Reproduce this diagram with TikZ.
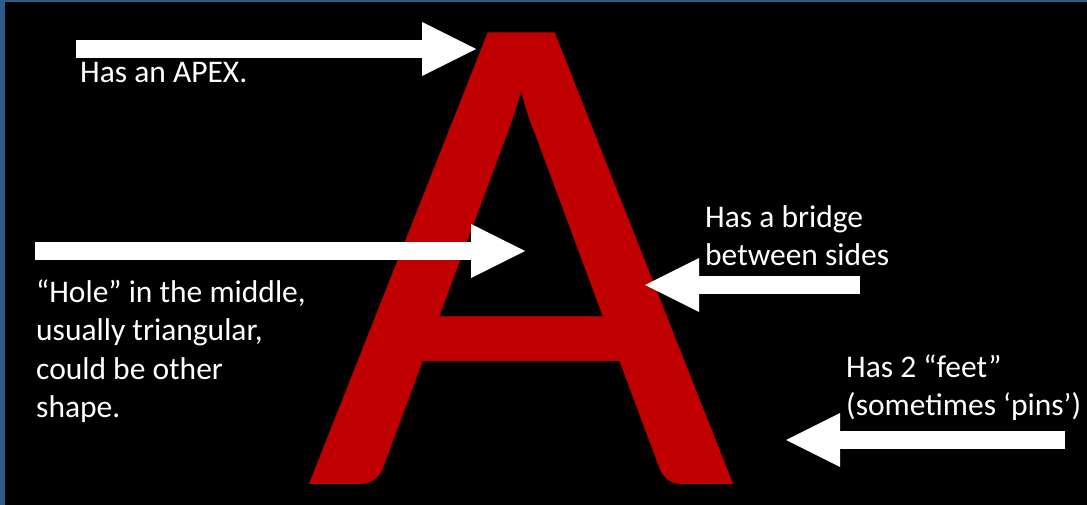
\documentclass[tikz,border=0pt]{standalone}
\usepackage{fontspec}
\setmainfont{Carlito}
\usetikzlibrary{arrows.meta}
\definecolor{slideblue}{RGB}{46,90,136}
\definecolor{letterred}{RGB}{192,0,0}

\begin{document}
\begin{tikzpicture}[x=1pt, y=-1pt,
  note/.style={text=white, font=\fontsize{31.5}{38.5}\selectfont, align=left, anchor=base west, inner sep=0pt},
  pointer/.style={draw=white, line width=18pt, -{Triangle[length=54pt 0 0, width=54pt 0 0, line width=0pt 0 0]}}]
% slide background
\fill[slideblue] (0,0) rectangle (1087,505);
\fill[black] (5,2) rectangle (1087,505);
\useasboundingbox (0,0) rectangle (1087,505);

% the big letter
\node[text=letterred, font=\fontsize{704}{704}\selectfont, inner sep=0pt, anchor=base, xscale=1.055] (bigA) at (521.5,484) {A};

% what points at what
\coordinate (apex) at (476,49);
\coordinate (apextail) at (76,49);
\coordinate (hole) at (525,251);
\coordinate (holetail) at (35,251);
\coordinate (bridge) at (645,285);
\coordinate (bridgetail) at (860,285);
\coordinate (feet) at (786,440);
\coordinate (feettail) at (1065,440);

% base of a note = baseline of its last line
\node[note] (apextext) at (80,83) {Has an APEX.};
\node[note] (holetext) at (36,417.5) {“Hole” in the middle,\\ usually triangular,\\ could be other\\ shape.};
\node[note] (bridgetext) at (705,265.5) {Has a bridge\\ between sides};
\node[note] (feettext) at (846,415.5) {Has 2 “feet”\\ (sometimes ‘pins’)};

\draw[pointer] (apextail) -- (apex);
\draw[pointer] (holetail) -- (hole);
\draw[pointer] (bridgetail) -- (bridge);
\draw[pointer] (feettail) -- (feet);
\end{tikzpicture}
\end{document}
